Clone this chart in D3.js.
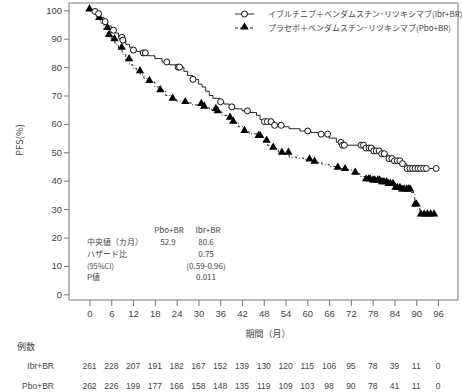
<!DOCTYPE html>
<html>
<head>
<meta charset="utf-8">
<script src="https://cdn.jsdelivr.net/npm/d3@7"></script>
<style>
  body { margin: 0; background: #fff; }
  text { font-family: "Noto Sans CJK JP", "Liberation Sans", sans-serif; fill: #444; }
</style>
</head>
<body>
<div class="canvas"></div>
<script>
// KM step knots [month, PFS%]
const ibrSteps = [
  [0,100],[1,99.6],[2,98.8],[3,97.5],[4,96],[5,94.5],[6,93],[7,92],[8,90.5],[9,89.5],
  [10,88],[11,87],[12,86],[13,85.5],[14,85],[16,84],[18,83],[20,81.8],[22,80.8],[24,80],
  [26,78.5],[27,77],[28.5,75.7],[30,74],[31,73],[32,71.5],[33,70],[34,69],[36,67.8],[37,67],
  [38.5,66],[40,65.3],[42,64.6],[44,64],[46,63],[47,61.5],[48,60.8],[51,59.5],[53,59],[55,58.3],
  [58,57.5],[61,57],[63,56.4],[66,55],[68,53.5],[69.5,52.5],[76,51.5],[78,50.5],[80,49.5],
  [82,47.8],[84,47],[86,46],[87.4,44.3],[95.5,44.3]
];
const pboSteps = [
  [0,100],[1,99],[2,97],[3,95.5],[4,93.5],[5,91],[6,89.5],[7,88],[8,86.5],[9,84.5],
  [10,82.5],[11,80.8],[12,79.5],[13,78.3],[14,77.3],[15,76],[16.5,74.8],[18,73],[19.5,71.6],[21,70],
  [22.9,68.6],[24,68],[26.4,67.4],[28,66.7],[31,65.8],[33,65],[35,64.2],[36.5,63],[38,61.9],[39.5,60.5],
  [41,59],[42.7,57.2],[44,56.5],[46.5,55.5],[48,53.8],[49,52.5],[50.5,51.3],[52,50.2],[53,49.6],[55,48.3],
  [57,48],[59,47.5],[60.6,47.2],[62,46.4],[64,45.8],[66,45],[68.4,44.3],[70.4,43.8],[73.2,42.5],[74.5,41.5],
  [76,40.2],[78,39.8],[80,39.2],[82,38.6],[84,37.2],[86,36.6],[88.4,35.8],[89.6,31.3],[91,27.8],[95.5,27.8]
];
// censored marks (months)
const ibrCensor = [1.5,2.5,4.3,6.6,8.9,9.2,12.1,14.8,15.4,21.3,24.4,24.8,28.5,36.1,39.2,43.5,
  48.2,49,50,51,52.8,60.1,63.8,65.6,69.3,69.7,70.2,74.8,75.5,76.2,77,77.6,78.3,79,79.8,80.5,
  81.2,82.5,83.3,84,84.8,85.5,86.2,87.5,88.3,89,89.7,90.5,91.2,92,92.8,95.5];
const pboCensor = [0,2.7,4.9,5.4,6.9,8.9,10.9,13.9,16.5,19.5,22.9,26.4,30.8,31.6,34.8,35.3,38.7,
  39.6,42.7,46.6,47,48.8,50.6,53,54.8,60.6,62,68.4,70.4,73.2,76.2,76.9,77.3,78.1,78.6,79.4,
  79.9,80.6,81.1,81.8,82.4,82.9,83.6,84.3,84.8,85.5,86.1,86.7,87.4,87.9,88.3,89.7,90.1,
  91.3,92.2,93.1,94,94.9];

const xTicks = [0,6,12,18,24,30,36,42,48,54,60,66,72,78,84,90,96];
const yTicks = [0,10,20,30,40,50,60,70,80,90,100];
const atRiskIbr = [261,228,207,191,182,167,152,139,130,120,115,106,95,78,39,11,0];
const atRiskPbo = [262,226,199,177,166,158,148,135,119,109,103,98,90,78,41,11,0];

const legendLabels = [
  'イブルチニブ＋ベンダムスチン･リツキシマブ(Ibr+BR)',
  'プラセボ＋ベンダムスチン･リツキシマブ(Pbo+BR)'
];
const statRows = [
  ['中央値（カ月）', '52.9', '80.6'],
  ['ハザード比', '', '0.75'],
  ['(95%CI)', '', '(0.59-0.96)'],
  ['P値', '', '0.011']
];

const svg = d3.select('.canvas').append('svg')
  .attr('width', 462)
  .attr('height', 392);

const x = d3.scaleLinear().domain([0, 96]).range([89.5, 438]);
const y = d3.scaleLinear().domain([0, 100]).range([294.3, 10.3]);

// frame
svg.append('rect')
  .attr('x', 69).attr('y', 3)
  .attr('width', 389).attr('height', 297)
  .attr('fill', 'none')
  .attr('stroke', '#777')
  .attr('stroke-width', 1);

// y axis
const yAxis = svg.append('g')
  .attr('transform', 'translate(69,0)')
  .call(d3.axisLeft(y).tickValues(yTicks).tickSize(5).tickPadding(2));
yAxis.select('.domain').remove();
yAxis.selectAll('line').attr('stroke', '#777');
yAxis.selectAll('text').style('font-family', '"Liberation Sans", sans-serif')
  .style('font-size', '9.5px').attr('fill', '#555');

// x axis
const xAxis = svg.append('g')
  .attr('transform', 'translate(0,300)')
  .call(d3.axisBottom(x).tickValues(xTicks).tickSize(6).tickPadding(4));
xAxis.select('.domain').remove();
xAxis.selectAll('line').attr('stroke', '#777');
xAxis.selectAll('text').style('font-family', '"Liberation Sans", sans-serif')
  .style('font-size', '9.5px').attr('fill', '#555');

svg.append('text')
  .attr('transform', 'translate(23,140) rotate(-90)')
  .attr('text-anchor', 'middle')
  .style('font-size', '9.5px')
  .text('PFS(%)');

svg.append('text')
  .attr('x', 268).attr('y', 337)
  .attr('text-anchor', 'middle')
  .style('font-size', '9px')
  .text('期間（月）');

// curves
const line = d3.line()
  .x(d => x(d[0]))
  .y(d => y(d[1]))
  .curve(d3.curveStepAfter);

svg.append('path')
  .datum(ibrSteps)
  .attr('d', line)
  .attr('fill', 'none')
  .attr('stroke', '#111')
  .attr('stroke-width', 0.9);

svg.append('path')
  .datum(pboSteps)
  .attr('d', line)
  .attr('fill', 'none')
  .attr('stroke', '#111')
  .attr('stroke-width', 0.9)
  .attr('stroke-dasharray', '3,2,1,2');

// PFS at time t from the step knots
const stepAt = (steps, t) => {
  let v = steps[0][1];
  steps.forEach(s => { if (s[0] <= t) v = s[1]; });
  return v;
};

const tri = d3.symbol().type(d3.symbolTriangle).size(30);

svg.append('g').selectAll('path')
  .data(pboCensor)
  .enter()
  .append('path')
    .attr('d', tri)
    .attr('transform', d => `translate(${x(d)}, ${y(stepAt(pboSteps, d)) - 1.2})`)
    .attr('fill', '#000');

svg.append('g').selectAll('circle')
  .data(ibrCensor)
  .enter()
  .append('circle')
    .attr('cx', d => x(d))
    .attr('cy', d => y(stepAt(ibrSteps, d)))
    .attr('r', 3)
    .attr('fill', '#fff')
    .attr('stroke', '#111')
    .attr('stroke-width', 1);

// legend
const legend = svg.append('g');
legend.append('line')
  .attr('x1', 235).attr('x2', 254).attr('y1', 14).attr('y2', 14)
  .attr('stroke', '#111').attr('stroke-width', 0.9);
legend.append('circle')
  .attr('cx', 244.5).attr('cy', 14).attr('r', 3)
  .attr('fill', '#fff').attr('stroke', '#111').attr('stroke-width', 1);
legend.append('line')
  .attr('x1', 235).attr('x2', 254).attr('y1', 28).attr('y2', 28)
  .attr('stroke', '#111').attr('stroke-width', 0.9)
  .attr('stroke-dasharray', '3,2');
legend.append('path')
  .attr('d', tri)
  .attr('transform', 'translate(244.5,27)')
  .attr('fill', '#000');
legend.selectAll('text.lg')
  .data(legendLabels)
  .enter()
  .append('text')
    .attr('class', 'lg')
    .attr('x', 268)
    .attr('y', (d, i) => 17 + i * 14)
    .style('font-size', '8px')
    .text(d => d);

// stats table
const stats = svg.append('g');
stats.append('text').attr('x', 169).attr('y', 233).attr('text-anchor', 'middle')
  .style('font-size', '8px').text('Pbo+BR');
stats.append('text').attr('x', 208).attr('y', 233).attr('text-anchor', 'middle')
  .style('font-size', '8px').text('Ibr+BR');
statRows.forEach((r, i) => {
  const yy = 245 + i * 11.8;
  stats.append('text').attr('x', 87).attr('y', yy)
    .style('font-size', i === 2 ? '7.4px' : '8px').text(r[0]);
  stats.append('text').attr('x', 168).attr('y', yy).attr('text-anchor', 'middle')
    .style('font-size', '8px').text(r[1]);
  stats.append('text').attr('x', 206).attr('y', yy).attr('text-anchor', 'middle')
    .style('font-size', '8px').text(r[2]);
});

// number at risk
svg.append('text').attr('x', 17).attr('y', 350)
  .style('font-size', '9px').text('例数');

const riskRows = [['Ibr+BR', atRiskIbr, 369], ['Pbo+BR', atRiskPbo, 388.5]];
riskRows.forEach(r => {
  svg.append('text').attr('x', 54).attr('y', r[2]).attr('text-anchor', 'end')
    .style('font-family', '"Liberation Sans", sans-serif')
    .style('font-size', '8.5px').text(r[0]);
  svg.append('g').selectAll('text')
    .data(r[1])
    .enter()
    .append('text')
      .attr('x', (d, i) => x(xTicks[i]))
      .attr('y', r[2])
      .attr('text-anchor', 'middle')
      .style('font-family', '"Liberation Sans", sans-serif')
      .style('font-size', '8.5px')
      .text(d => d);
});
</script>
</body>
</html>
